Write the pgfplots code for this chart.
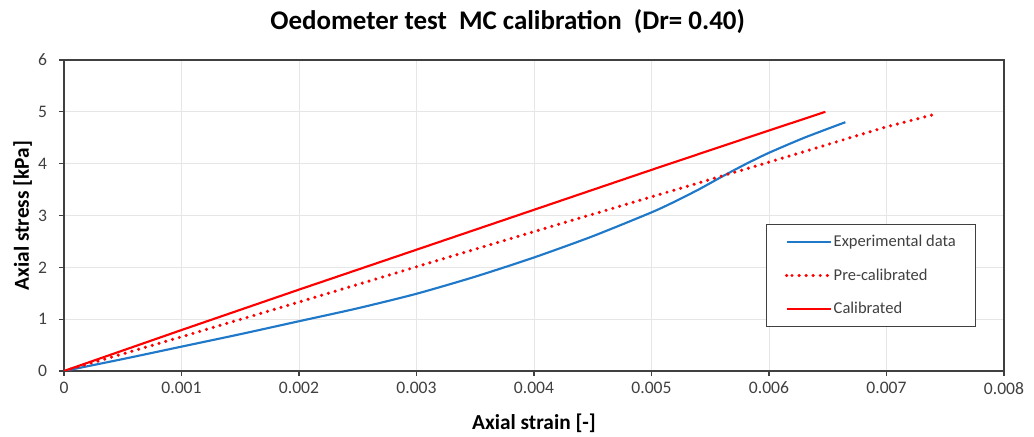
\documentclass[border=0pt]{standalone}
\usepackage{fontspec}
\setmainfont{Carlito}
\usepackage{pgfplots}
\pgfplotsset{compat=1.18}
\usetikzlibrary{calc}
\definecolor{expblue}{HTML}{1F78C8}
\definecolor{calred}{HTML}{FF0000}
\definecolor{gridgray}{HTML}{E6E6E6}
\definecolor{frame}{HTML}{404040}
\definecolor{ticktext}{HTML}{404040}
\begin{document}
\begin{tikzpicture}
\begin{axis}[
  name=ax,
  scale only axis,
  width=705pt, height=233.25pt,
  xmin=0, xmax=0.008, ymin=0, ymax=6,
  xtick={0,0.001,0.002,0.003,0.004,0.005,0.006,0.007,0.008},
  xticklabels={0,0.001,0.002,0.003,0.004,0.005,0.006,0.007,0.008},
  ytick={0,1,2,3,4,5,6},
  yticklabels={0,1,2,3,4,5,6},
  scaled x ticks=false,
  /pgf/number format/assume math mode=true,
  tick pos=left, tick align=outside,
  major tick length=3.75pt,
  every tick/.style={frame, line width=0.9pt},
  axis line style={frame, line width=1pt},
  grid=major,
  major grid style={gridgray, line width=0.75pt},
  ticklabel style={font=\fontsize{13.2pt}{15pt}\selectfont, text=ticktext},
  xticklabel style={yshift=-1pt},
  yticklabel style={xshift=-5.5pt},
  xlabel={\textbf{Axial strain [-]}},
  ylabel={\textbf{Axial stress [kPa]}},
  label style={font=\fontsize{16pt}{18pt}\selectfont},
  xlabel style={at={(axis description cs:0.5,0)}, anchor=center, yshift=-39pt},
  ylabel style={at={(axis description cs:-0.044,0.5)}, anchor=center},
  title={\textbf{Oedometer test\ \ MC calibration\ \ (Dr= 0.40)}},
  title style={font=\fontsize{20.2pt}{23pt}\selectfont, at={(axis description cs:0.472,1)}, anchor=center, yshift=23pt},
  legend style={at={(0.7465,0.4717)}, anchor=north west, draw=frame, line width=0.8pt,
    font=\fontsize{12.4pt}{14pt}\selectfont, text=ticktext,
    inner xsep=14pt, inner ysep=0.5pt, row sep=0pt,
    nodes={minimum height=25pt, inner sep=1pt}},
  legend cell align=left,
  legend image code/.code={\path (0pt,0pt) -- (4pt,0pt); \draw[#1] (4pt,0pt) -- (33pt,0pt);},
]
\addplot[expblue, line width=1.6pt, smooth, tension=0.4] coordinates {
(0,0) (0.0005,0.23) (0.001,0.47) (0.0015,0.71) (0.002,0.96) (0.0025,1.21)
(0.003,1.49) (0.0035,1.82) (0.004,2.19) (0.0045,2.60) (0.005,3.06)
(0.0052,3.27) (0.0054,3.50) (0.0056,3.75) (0.0058,3.99) (0.006,4.21)
(0.0063,4.50) (0.00665,4.80)
};
\addlegendentry{Experimental data}
\addplot[calred, line width=2.6pt, line cap=round, dash pattern=on 0pt off 5.3pt] coordinates {
(0,0) (0.001,0.66) (0.002,1.33) (0.003,2.01) (0.004,2.69) (0.005,3.36)
(0.006,4.03) (0.007,4.71) (0.00744,4.97)
};
\addlegendentry{Pre-calibrated}
\addplot[calred, line width=1.6pt] coordinates {
(0,0) (0.001,0.79) (0.002,1.57) (0.003,2.34) (0.004,3.11) (0.005,3.88)
(0.006,4.64) (0.00648,5.0)
};
\addlegendentry{Calibrated}
\coordinate (bl) at (rel axis cs:0,0);
\coordinate (tr) at (rel axis cs:1,1);
\end{axis}
\pgfresetboundingbox
\path ($(bl)+(-48pt,-49.5pt)$) rectangle ($(tr)+(22.5pt,45pt)$);
\end{tikzpicture}
\end{document}
